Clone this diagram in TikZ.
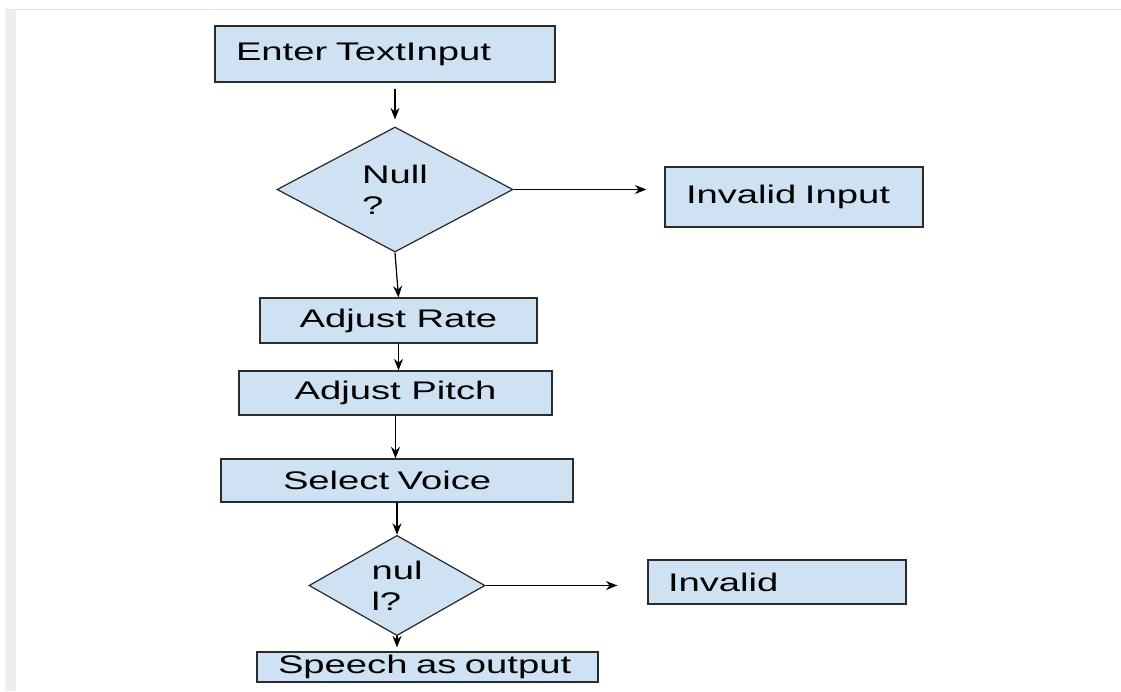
\documentclass[tikz,border=0pt]{standalone}
\usepackage{fontspec}
\setmainfont{Liberation Sans}[FakeStretch=1.5]
\usetikzlibrary{positioning,arrows.meta,shapes.geometric,calc}
\definecolor{celeste}{HTML}{CFE2F3}
\definecolor{borde}{HTML}{2B2B2B}
\definecolor{marco}{HTML}{E2E2E6}

\begin{document}
\begin{tikzpicture}[font=\fontsize{14.5}{17.5}\selectfont,
  caja/.style={draw=borde, fill=celeste, line width=0.7pt, align=left, inner ysep=0pt},
  rombo/.style={diamond, draw=borde, fill=celeste, line width=0.7pt, align=left, inner sep=0pt},
  flecha/.style={-{Stealth[length=2.3mm,width=1.8mm]}, line width=0.7pt}]
  \useasboundingbox (0,0) rectangle (22.42,-13.82);
  % borde de la pagina
  \fill[marco!60] (0.1,-0.18) rectangle (0.32,-13.82);
  \draw[marco] (0.1,-0.18) -- (22.42,-0.18);
  \node[caja, text width=5.96cm, inner xsep=0.42cm, minimum height=1.12cm] (entrada) at (7.70,-1.08) {Enter TextInput};
  \node[rombo, minimum width=4.72cm, minimum height=2.5cm] (nulo) at (7.90,-3.79) {Null\\?};
  \node[caja, text width=4.32cm, inner xsep=0.42cm, minimum height=1.2cm] (invalida) at (15.88,-3.94) {Invalid Input};
  \node[caja, align=center, minimum width=5.54cm, minimum height=0.9cm] (tasa) at (7.97,-6.41) {Adjust Rate};
  \node[caja, align=center, minimum width=6.26cm, minimum height=0.88cm] (tono) at (7.91,-7.86) {Adjust Pitch};
  \node[caja, text width=4.56cm, inner xsep=1.24cm, minimum height=0.86cm] (voz) at (7.94,-9.61) {Select Voice};
  \node[rombo, minimum width=3.52cm, minimum height=1.62cm] (nulo2) at (7.94,-11.71) {nul\\l?};
  \node[caja, text width=4.36cm, inner xsep=0.40cm, minimum height=0.88cm] (invalido) at (15.54,-11.64) {Invalid};
  \node[caja, text width=5.98cm, inner xsep=0.42cm, minimum height=0.6cm] (salida) at (8.55,-13.34) {Speech as output};
  % flechas
  \draw[flecha, shorten <=0.12cm, shorten >=0.14cm] (entrada.south -| nulo.north) -- (nulo.north);
  \draw[flecha, shorten >=0.36cm] (nulo.east) -- (nulo.east -| invalida.west);
  \draw[flecha] (nulo.south) -- (tasa.north);
  \draw[flecha] (tasa.south) -- (tasa.south |- tono.north);
  \draw[flecha] (tono.south) -- (tono.south |- voz.north);
  \draw[flecha] (voz.south -| nulo2.north) -- (nulo2.north);
  \draw[flecha, shorten >=0.6cm] (nulo2.east) -- (nulo2.east -| invalido.west);
  \draw[flecha, shorten >=0.08cm] (nulo2.south) -- (nulo2.south |- salida.north);
\end{tikzpicture}
\end{document}
